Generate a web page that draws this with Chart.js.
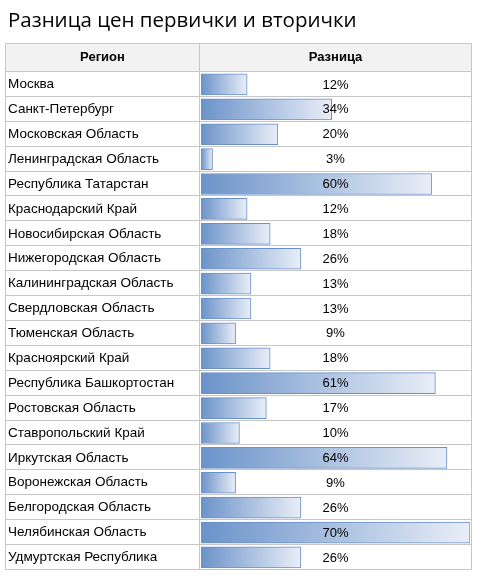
<!DOCTYPE html>
<html>
<head>
<meta charset="utf-8">
<script src="https://cdn.jsdelivr.net/npm/chart.js@4"></script>
<style>
html,body{margin:0;padding:0;background:#fff;}
#wrap{width:484px;height:578px;position:relative;}
</style>
</head>
<body>
<div id="wrap"><canvas id="c" width="484" height="578"></canvas></div>
<script>
const titleText = 'Разница цен первички и вторички';
const headerLabels = ['Регион', 'Разница'];
const regions = ['Москва','Санкт-Петербург','Московская Область','Ленинградская Область','Республика Татарстан','Краснодарский Край','Новосибирская Область','Нижегородская Область','Калининградская Область','Свердловская Область','Тюменская Область','Красноярский Край','Республика Башкортостан','Ростовская Область','Ставропольский Край','Иркутская Область','Воронежская Область','Белгородская Область','Челябинская Область','Удмуртская Республика'];
const diffs = [12,34,20,3,60,12,18,26,13,13,9,18,61,17,10,64,9,26,70,26];

const GRID = '#c6c6c6';
const tablePlugin = {
  id: 'tablePlugin',
  beforeDraw(chart) {
    const ctx = chart.ctx;
    const ca = chart.chartArea;
    const left = 5.5, right = ca.right + 1.5;
    const headTop = 43.5, headBottom = ca.top - 0.5;
    ctx.save();
    ctx.fillStyle = '#f2f2f2';
    ctx.fillRect(left, headTop, right - left, headBottom - headTop);
    ctx.restore();
  },
  afterDraw(chart) {
    const ctx = chart.ctx;
    const ca = chart.chartArea;
    const y = chart.scales.y;
    const left = 5.5, right = Math.round(ca.right) + 1.5;
    const headTop = 43.5;
    const colX = Math.round(ca.left) - 1.5;
    const n = regions.length;
    const rowH = (ca.bottom - ca.top) / n;
    ctx.save();
    ctx.strokeStyle = GRID;
    ctx.lineWidth = 1;
    ctx.beginPath();
    ctx.rect(left, headTop, right - left, Math.round(ca.bottom) - 0.5 - headTop);
    for (let i = 0; i < n; i++) {
      const yy = Math.round(ca.top + i * rowH) - 0.5;
      ctx.moveTo(left, yy); ctx.lineTo(right, yy);
    }
    ctx.moveTo(colX, headTop); ctx.lineTo(colX, Math.round(ca.bottom) - 0.5);
    ctx.stroke();
    // header text
    ctx.fillStyle = '#000';
    ctx.font = 'bold 13px "Liberation Sans", Arial, sans-serif';
    ctx.textAlign = 'center';
    ctx.textBaseline = 'middle';
    const hy = (headTop + ca.top) / 2;
    ctx.fillText(headerLabels[0], (left + colX) / 2, hy);
    ctx.fillText(headerLabels[1], (colX + right) / 2, hy);
    // values
    ctx.font = '13px "Liberation Sans", Arial, sans-serif';
    const cx = (colX + right) / 2;
    diffs.forEach((v, i) => {
      ctx.fillText(v + '%', cx, y.getPixelForValue(i) + 0.5);
    });
    ctx.restore();
  }
};

new Chart(document.getElementById('c'), {
  type: 'bar',
  data: {
    labels: regions,
    datasets: [{
      data: diffs,
      borderColor: '#6a90c8',
      borderWidth: 1,
      borderSkipped: false,
      barThickness: 21,
      backgroundColor(ctx) {
        const chart = ctx.chart;
        if (!chart.chartArea || !chart.scales.x) return '#6b93c9';
        const xs = chart.scales.x;
        const v = ctx.raw;
        const x0 = xs.getPixelForValue(0);
        const x1 = xs.getPixelForValue(v);
        const g = chart.ctx.createLinearGradient(x0, 0, Math.max(x1, x0 + 1), 0);
        g.addColorStop(0, '#6b93c9');
        g.addColorStop(1, '#e9eef7');
        return g;
      }
    }]
  },
  options: {
    indexAxis: 'y',
    responsive: false,
    animation: false,
    devicePixelRatio: 1,
    layout: { padding: { left: 8, right: 14, top: 0, bottom: 6 } },
    plugins: {
      legend: { display: false },
      tooltip: { enabled: false },
      title: {
        display: true,
        text: titleText,
        align: 'start',
        color: '#000',
        font: { family: '"Open Sans", "Noto Sans", sans-serif', size: 20.5, weight: 'normal', lineHeight: 1.2 },
        padding: { top: 9, bottom: 38.4 }
      }
    },
    scales: {
      x: { display: false, min: 0, max: 70 },
      y: {
        grid: { display: false },
        border: { display: false },
        afterFit(scale) { scale.width = 193; },
        ticks: {
          crossAlign: 'far',
          color: '#000',
          padding: 0,
          autoSkip: false,
          font: { family: '"Liberation Sans", Arial, sans-serif', size: 13.5 }
        }
      }
    }
  },
  plugins: [tablePlugin]
});
</script>
</body>
</html>
